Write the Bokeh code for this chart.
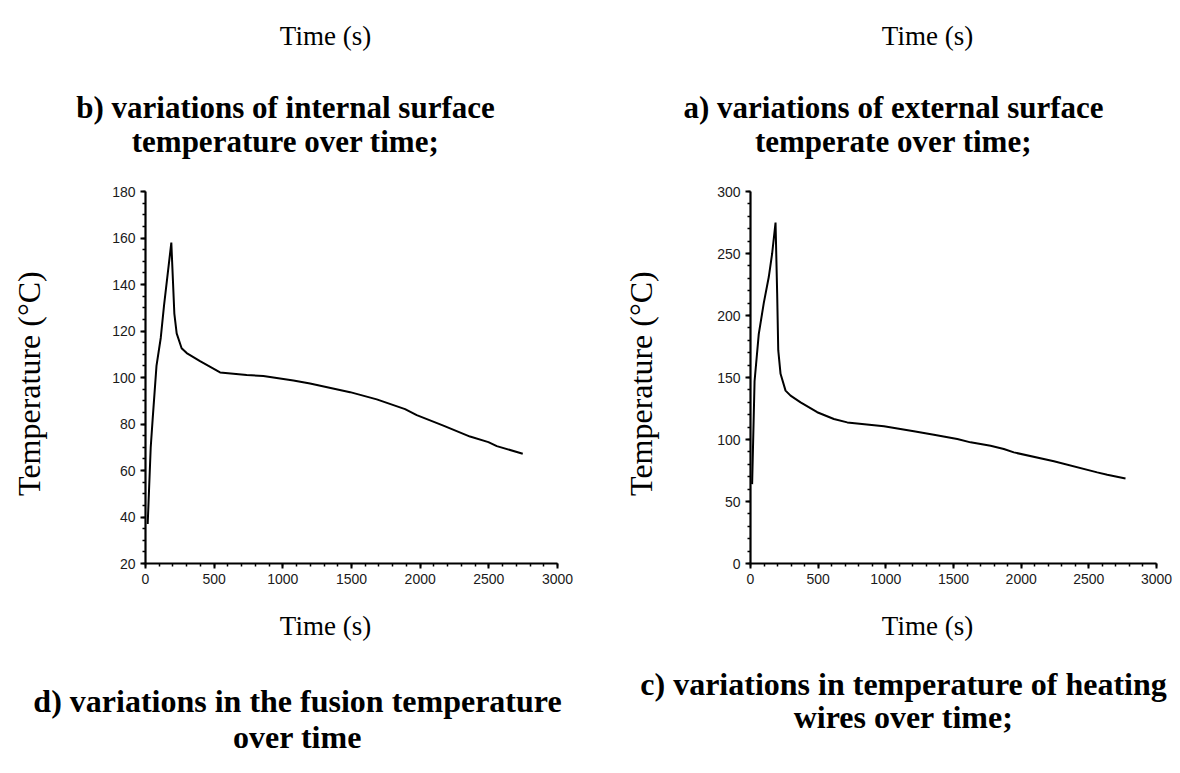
import math
from bokeh.plotting import figure
from bokeh.layouts import row, column
from bokeh.models import Range1d, SingleIntervalTicker
from bokeh.core.properties import value
from bokeh.embed import file_html
from bokeh.resources import INLINE

# ---- data: panel b (internal surface temperature) ----
b_time = [16, 38, 52, 80, 111, 135, 188, 210, 227, 263, 300, 397, 543, 737, 858,
          1077, 1198, 1490, 1684, 1890, 1975, 2169, 2363, 2497, 2558, 2747]
b_temp = [37, 70, 82, 105, 117, 131, 158, 127.5, 119, 112.6, 110.5, 107, 102.2, 101.1, 100.6,
          98.7, 97.4, 93.7, 90.6, 86.4, 83.8, 79.3, 74.6, 72.2, 70.5, 67.2]

# ---- data: panel a (external surface temperature) ----
a_time = [12, 30, 61, 98, 135, 160, 185, 197, 205, 222, 259, 296, 370, 493, 616, 715,
          986, 1207, 1355, 1528, 1626, 1774, 1872, 1946, 2242, 2562, 2636, 2771]
a_temp = [64, 147, 185, 210, 231, 250, 275, 218, 172, 153, 139.4, 135.4, 130, 122, 116.5, 113.8,
          110.6, 106.6, 103.9, 100.4, 97.7, 95, 92.3, 89.6, 82.4, 73.5, 71.6, 68.6]

x_label = "Time (s)"
y_label = "Temperature (°C)"
title_b = ["b) variations of internal surface", "temperature over time;"]
title_a = ["a) variations of external surface", "temperate over time;"]
caption_d = ["d) variations in the fusion temperature", "over time"]
caption_c = ["c) variations in temperature of heating", "wires over time;"]

SERIF = "Liberation Serif"
SANS = "Liberation Sans"
PAGE_W, PAGE_H = 1180, 773
TOP_H = 170
MID_H = 430
BOT_H = PAGE_H - TOP_H - MID_H


def text_fig(w, h, items):
    """items: (x, y, text, size, style, angle) in pixel coords of this strip"""
    f = figure(width=w, height=h, output_backend="svg", toolbar_location=None,
               x_range=Range1d(0, w), y_range=Range1d(h, 0),
               x_axis_location=None, y_axis_location=None, min_border=0)
    f.outline_line_color = None
    f.grid.visible = False
    for (x, y, t, size, style, ang) in items:
        f.text(x=[x], y=[y], text=[t], text_font=value(SERIF),
               text_font_size=value(size), text_font_style=style,
               text_color="black", text_align="center", text_baseline="middle",
               angle=ang)
    return f


def make_panel(xs, ys, y_start, y_end, y_int, y_minor, w, left, right, top, bottom):
    p = figure(width=w, height=MID_H, output_backend="svg", toolbar_location=None,
               x_range=Range1d(0, 3000), y_range=Range1d(y_start, y_end),
               min_border_left=left, min_border_right=right,
               min_border_top=top, min_border_bottom=bottom)
    p.outline_line_color = None
    p.xgrid.visible = False
    p.ygrid.visible = False
    p.xaxis.ticker = SingleIntervalTicker(interval=500, num_minor_ticks=5)
    p.yaxis.ticker = SingleIntervalTicker(interval=y_int, num_minor_ticks=y_minor)
    for ax in (p.xaxis, p.yaxis):
        ax.axis_line_width = 2.2
        ax.axis_line_color = "black"
        ax.major_tick_line_width = 2
        ax.minor_tick_line_width = 1.5
        ax.major_tick_in = 0
        ax.major_tick_out = 5
        ax.minor_tick_in = 0
        ax.minor_tick_out = 3
        ax.major_label_text_font = SANS
        ax.major_label_text_font_size = "14px"
        ax.major_label_text_color = "#1a1a1a"
        ax.major_label_standoff = 5
    p.line(xs, ys, line_color="black", line_width=2)
    return p


top = text_fig(PAGE_W, TOP_H, [
    (325, 35, x_label, "27px", "normal", 0),
    (927, 35, x_label, "27px", "normal", 0),
    (285, 107, title_b[0], "31px", "bold", 0),
    (285, 141, title_b[1], "31px", "bold", 0),
    (893, 107, title_a[0], "31px", "bold", 0),
    (893, 141, title_a[1], "31px", "bold", 0),
])

bottom = text_fig(PAGE_W, BOT_H, [
    (325, 625 - TOP_H - MID_H, x_label, "27px", "normal", 0),
    (927, 625 - TOP_H - MID_H, x_label, "27px", "normal", 0),
    (297, 700 - TOP_H - MID_H, caption_d[0], "32px", "bold", 0),
    (297, 736 - TOP_H - MID_H, caption_d[1], "32px", "bold", 0),
    (903, 683 - TOP_H - MID_H, caption_c[0], "32px", "bold", 0),
    (903, 716 - TOP_H - MID_H, caption_c[1], "32px", "bold", 0),
])

YL_L_W = 60
YL_R_W = 70
yl_left = text_fig(YL_L_W, MID_H, [(28, 392 - TOP_H, y_label, "32px", "normal", math.pi / 2)])
yl_right = text_fig(YL_R_W, MID_H, [(640 - 590, 392 - TOP_H, y_label, "32px", "normal", math.pi / 2)])

p_left = make_panel(b_time, b_temp, 20, 180, 20, 4, 590 - YL_L_W,
                    145 - YL_L_W, 590 - 557, 190 - TOP_H, TOP_H + MID_H - 566)
p_right = make_panel(a_time, a_temp, 0, 300, 50, 5, 590 - YL_R_W,
                     750 - 590 - YL_R_W, 1180 - 1156, 191 - TOP_H, TOP_H + MID_H - 563)

layout = column(top, row(yl_left, p_left, yl_right, p_right, spacing=0), bottom, spacing=0)
open("out.html", "w").write(file_html(layout, INLINE))
